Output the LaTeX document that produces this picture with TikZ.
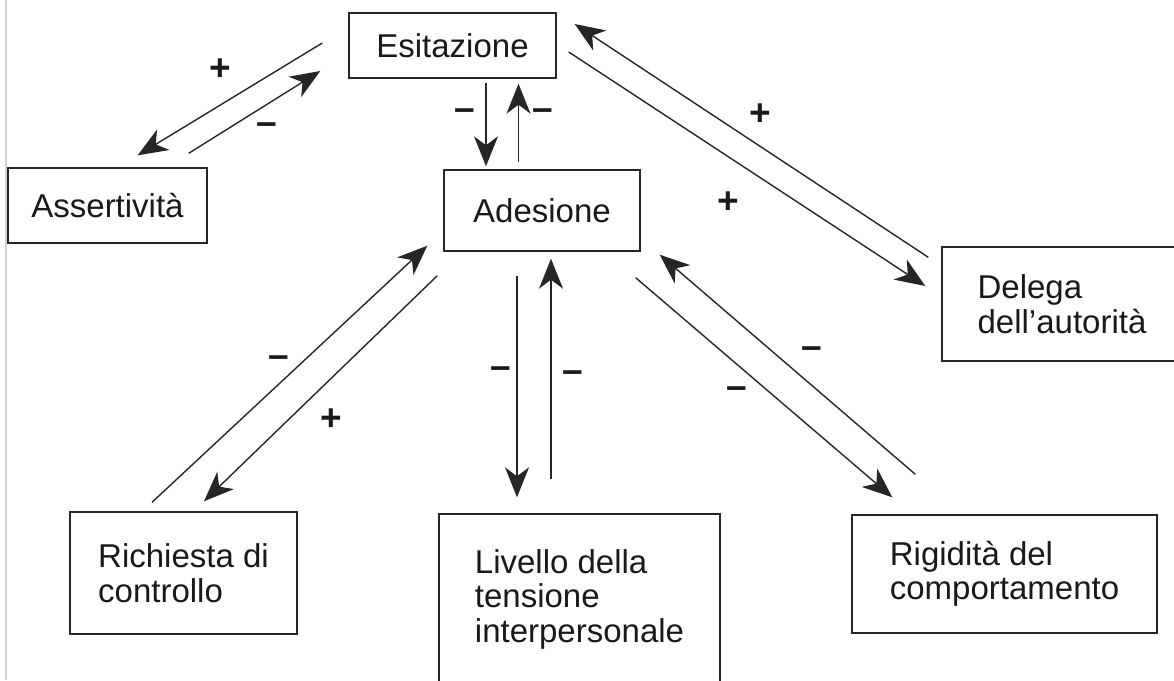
\documentclass[tikz,border=0pt]{standalone}
\usepackage{fontspec}
\setmainfont{Liberation Sans}
\usetikzlibrary{arrows.meta}

\tikzset{
  box/.style={draw=black!85, text=black!90, line width=1.4pt, align=left, inner sep=0pt,
    font=\fontsize{33}{34.5}\selectfont},
  sgn/.style={text=black!90, inner sep=0pt, font=\fontsize{37}{37}\selectfont\bfseries},
  arr/.style={draw=black!85, line width=1.4pt, -{Stealth[length=30pt,width=24pt,inset=9pt]}}
}

\begin{document}
\begin{tikzpicture}[x=1pt,y=-1pt]
\useasboundingbox (0,0) rectangle (1174,680);
\clip (0,0) rectangle (1174,680);
% scan border
\draw[black!18, line width=1.5pt] (6,0) -- (6,680);

\node[box, minimum width=207pt, minimum height=65pt] (esit) at (452.5,45.5) {Esitazione};
\node[box, minimum width=199pt, minimum height=75pt] (asser) at (107.5,205.5) {Assertività};
\node[box, minimum width=196pt, minimum height=81pt] (ades) at (542,210.5) {Adesione};
\node[box, minimum width=240pt, minimum height=114pt] (deleg) at (1062,304) {Delega\\dell’autorità};
\node[box, minimum width=227pt, minimum height=122pt] (rich) at (183.5,573) {Richiesta di\\controllo};
\node[box, minimum width=281pt, minimum height=170pt] (livel) at (579.5,599) {Livello della\\tensione\\interpersonale};
\node[box, minimum width=305pt, minimum height=118pt] (rigid) at (1004.5,574) {Rigidità del\\comportamento};

% Esitazione -- Assertivita
\draw[arr] ([shift={(-26,-2.5)}]esit.west) -- ([shift={(-70,-12)}]asser.north east);
\draw[arr] ([shift={(-19,-14)}]asser.north east) -- ([shift={(-28,25.5)}]esit.west);
\node[sgn] (s1) at (220,70) {+};
\node[sgn] (s2) at (267,129) {–};

% Esitazione -- Adesione
\draw[arr] ([shift={(33.5,4)}]esit.south) -- ([shift={(-56,-3)}]ades.north);
\draw[arr] ([shift={(-23.5,-7)}]ades.north) -- ([shift={(66,5)}]esit.south);
\node[sgn] (s3) at (465,115) {–};
\node[sgn] (s4) at (543,115) {–};

% Esitazione -- Delega
\draw[arr] ([shift={(-13,11)}]deleg.north west) -- ([shift={(18,-21.5)}]esit.east);
\draw[arr] ([shift={(12,6.5)}]esit.east) -- ([shift={(-16,-18)}]deleg.west);
\node[sgn] (s5) at (760,115) {+};
\node[sgn] (s6) at (728,203) {+};

% Adesione -- Richiesta
\draw[arr] ([shift={(-31.5,-9)}]rich.north) -- ([shift={(-16,-6)}]ades.south west);
\draw[arr] ([shift={(-6,24)}]ades.south west) -- ([shift={(20.5,-10)}]rich.north);
\node[sgn] (s7) at (279,362) {–};
\node[sgn] (s8) at (331,420) {+};

% Adesione -- Livello
\draw[arr] ([shift={(-25,24)}]ades.south) -- ([shift={(-62.5,-16)}]livel.north);
\draw[arr] ([shift={(-28.5,-34)}]livel.north) -- ([shift={(9,7)}]ades.south);
\node[sgn] (s9) at (501,373) {–};
\node[sgn] (s10) at (573,377) {–};

% Adesione -- Rigidita
\draw[arr] ([shift={(64,-40)}]rigid.north west) -- ([shift={(19,3)}]ades.south east);
\draw[arr] ([shift={(-5,26)}]ades.south east) -- ([shift={(41,-17)}]rigid.north west);
\node[sgn] (s11) at (812,353) {–};
\node[sgn] (s12) at (737,393) {–};
\end{tikzpicture}
\end{document}
